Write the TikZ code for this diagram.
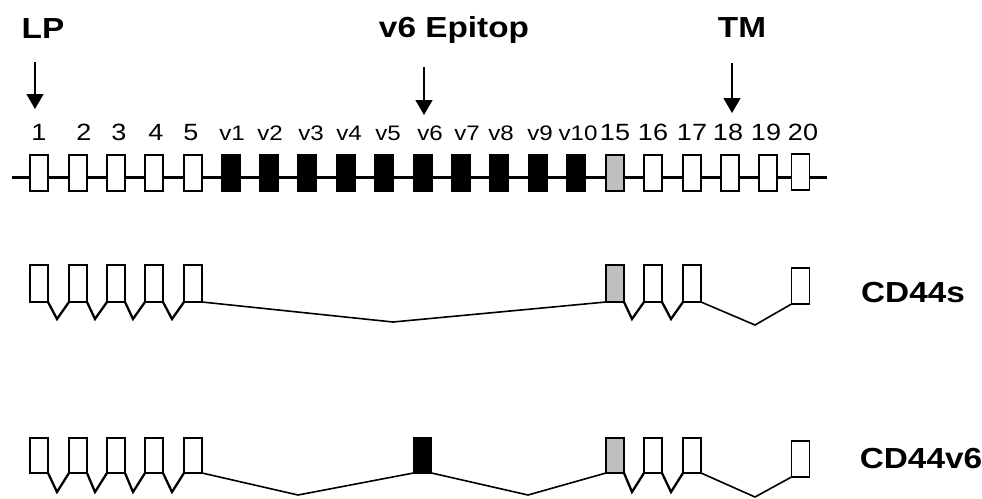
\documentclass[tikz,border=0pt]{standalone}
\usepackage{fontspec}
\setmainfont[FakeStretch=1.15]{Liberation Sans}
\usetikzlibrary{arrows.meta}
\begin{document}
\begin{tikzpicture}[x=1pt,y=-1pt,
  exon/.style={draw, line width=1.8pt, inner sep=0pt, outer sep=0pt,
    minimum width=18pt, minimum height=36pt, fill=white},
  varexon/.style={exon, fill=black},
  grayexon/.style={exon, fill=gray!50},
  num/.style={anchor=base, inner sep=0pt, font=\fontsize{23.5}{23.5}\selectfont},
  vnum/.style={anchor=base, inner sep=0pt, font=\fontsize{21}{21}\selectfont},
  title/.style={anchor=base, inner sep=0pt, font=\fontsize{29}{29}\selectfont\bfseries},
  backbone/.style={line width=3pt},
  splice/.style={line width=2.3pt, line join=miter},
  intron/.style={line width=1.6pt},
  pointer/.style={line width=1.4pt, -{Triangle[width=17pt,length=15pt]}}]

\useasboundingbox (0,0) rectangle (982,498);

% ---------- genomic structure ----------
\coordinate (bbL) at (12,177);
\coordinate (bbR) at (827,177);
\draw[backbone] (bbL) -- (bbR);

\foreach \name/\cx/\sty in {e1/39/exon, e2/78/exon, e3/116/exon, e4/154/exon, e5/193/exon,
    v1/231/varexon, v2/269/varexon, v3/307/varexon, v4/346/varexon, v5/384/varexon,
    v6/423/varexon, v7/461/varexon, v8/499/varexon, v9/538/varexon, v10/576/varexon,
    e15/615/grayexon, e16/653/exon, e17/692/exon, e18/730/exon, e19/768/exon}
  \node[\sty] (\name) at (\cx,173) {};
\node[exon] (e20) at (800.5,172) {};

% exon numbers
\foreach \t/\cx in {1/39, 2/84, 3/119, 4/156, 5/191, 15/615, 16/653, 17/692, 18/728, 19/766, 20/803}
  \node[num] (n\t) at (\cx,140) {\t};
\foreach \t/\cx in {v1/232, v2/270, v3/311, v4/349, v5/388, v6/430, v7/467, v8/501, v9/540, v10/578}
  \node[vnum] (n\t) at (\cx,140) {\t};

% feature labels with pointers
\node[title] (lp) at (43,38) {LP};
\node[title] (epi) at (454,37) {v6 Epitop};
\node[title] (tm) at (742,37) {TM};
\coordinate (lpS) at (35,62);   \coordinate (lpE) at (35,109);
\coordinate (epiS) at (424,67); \coordinate (epiE) at (424,115);
\coordinate (tmS) at (732,63);  \coordinate (tmE) at (732,113);
\draw[pointer] (lpS) -- (lpE);
\draw[pointer] (epiS) -- (epiE);
\draw[pointer] (tmS) -- (tmE);

% ---------- CD44s transcript ----------
\foreach \name/\cx/\sty in {s1/39/exon, s2/78/exon, s3/116/exon, s4/154/exon, s5/193/exon,
    s15/615/grayexon, s16/653/exon, s17/692/exon}
  \node[\sty, minimum height=37pt] (\name) at (\cx,283.5) {};
\node[exon, minimum height=36pt] (s20) at (800.5,286) {};

\draw[splice] (s1.south east) -- (57,319) -- (s2.south west);
\draw[splice] (s2.south east) -- (95,319) -- (s3.south west);
\draw[splice] (s3.south east) -- (133,319) -- (s4.south west);
\draw[splice] (s4.south east) -- (172,319) -- (s5.south west);
\draw[intron] (s5.south east) -- (393,322) -- (s15.south west);
\draw[splice] (s15.south east) -- (632,319) -- (s16.south west);
\draw[splice] (s16.south east) -- (671,319) -- (s17.south west);
\draw[intron] (s17.south east) -- (755,325) -- (s20.south west);
\node[title] (cds) at (913,302) {CD44s};

% ---------- CD44v6 transcript ----------
\foreach \name/\cx/\sty in {w1/39/exon, w2/78/exon, w3/116/exon, w4/154/exon, w5/193/exon,
    w6/422.5/varexon, w15/615/grayexon, w16/653/exon, w17/692/exon}
  \node[\sty, minimum height=35pt] (\name) at (\cx,455.5) {};
\node[exon, minimum height=36pt] (w20) at (800.5,459) {};

\draw[splice] (w1.south east) -- (57,492) -- (w2.south west);
\draw[splice] (w2.south east) -- (95,492) -- (w3.south west);
\draw[splice] (w3.south east) -- (133,492) -- (w4.south west);
\draw[splice] (w4.south east) -- (172,492) -- (w5.south west);
\draw[intron] (w5.south east) -- (298,495) -- (w6.south west);
\draw[intron] (w6.south east) -- (528,495) -- (w15.south west);
\draw[splice] (w15.south east) -- (632,492) -- (w16.south west);
\draw[splice] (w16.south east) -- (671,492) -- (w17.south west);
\draw[intron] (w17.south east) -- (755,497) -- (w20.south west);
\node[title] (cdv) at (921,468) {CD44v6};
\end{tikzpicture}
\end{document}
